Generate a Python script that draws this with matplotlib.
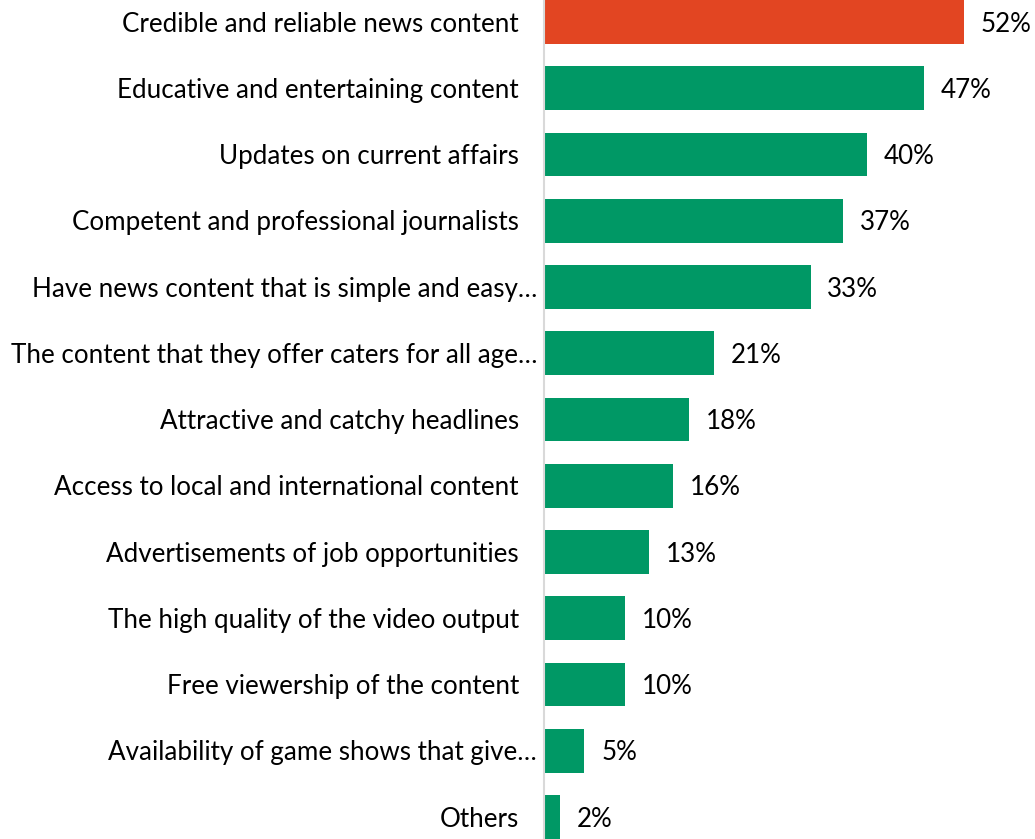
import matplotlib
matplotlib.use("Agg")
import matplotlib.pyplot as plt
from matplotlib.transforms import blended_transform_factory, offset_copy

categories = [
    "Credible and reliable news content",
    "Educative and entertaining content",
    "Updates on current affairs",
    "Competent and professional journalists",
    "Have news content that is simple and easy…",
    "The content that they offer caters for all age…",
    "Attractive and catchy headlines",
    "Access to local and international content",
    "Advertisements of job opportunities",
    "The high quality of the video output",
    "Free viewership of the content",
    "Availability of game shows that give…",
    "Others",
]
values = [52, 47, 40, 37, 33, 21, 18, 16, 13, 10, 10, 5, 2]

highlight_color = "#E24522"
bar_color = "#009865"
font = "Lato"
fsize = 18.7

W, H = 1035, 839
fig = plt.figure(figsize=(W / 100, H / 100), dpi=100)
ax = fig.add_axes([544 / W, 0, 1 - 544 / W, 1])

bar_h = 0.664
ypos = list(range(len(categories)))
colors = [highlight_color] + [bar_color] * (len(categories) - 1)
ax.barh(ypos, values, height=bar_h, color=colors, edgecolor="none", zorder=2)

ax.set_xlim(0, (W - 544) / 8.08)
ax.set_ylim(len(categories) - 1 + bar_h / 2, -bar_h / 2)

for s in ["top", "right", "bottom"]:
    ax.spines[s].set_visible(False)
ax.spines["left"].set_color("#d9d9d9")
ax.spines["left"].set_linewidth(1.5)
ax.set_xticks([])
ax.set_yticks([])

# category labels, right-aligned to the left of the axis line
trans = offset_copy(blended_transform_factory(fig.transFigure, ax.transData),
                    fig=fig, x=0, y=-1.5, units="points")
for y, cat in zip(ypos, categories):
    x_right = 537 if cat.endswith("…") else 519
    ax.text(x_right / W, y, cat, transform=trans, ha="right", va="center",
            fontsize=fsize, family=font, color="#000000")

# value labels at the bar ends
for y, v in zip(ypos, values):
    ax.annotate(f"{v}%", xy=(v, y), xytext=(12, -1.5), textcoords="offset points",
                ha="left", va="center", fontsize=fsize, family=font, color="#000000")

fig.savefig("out.png", dpi=100)
